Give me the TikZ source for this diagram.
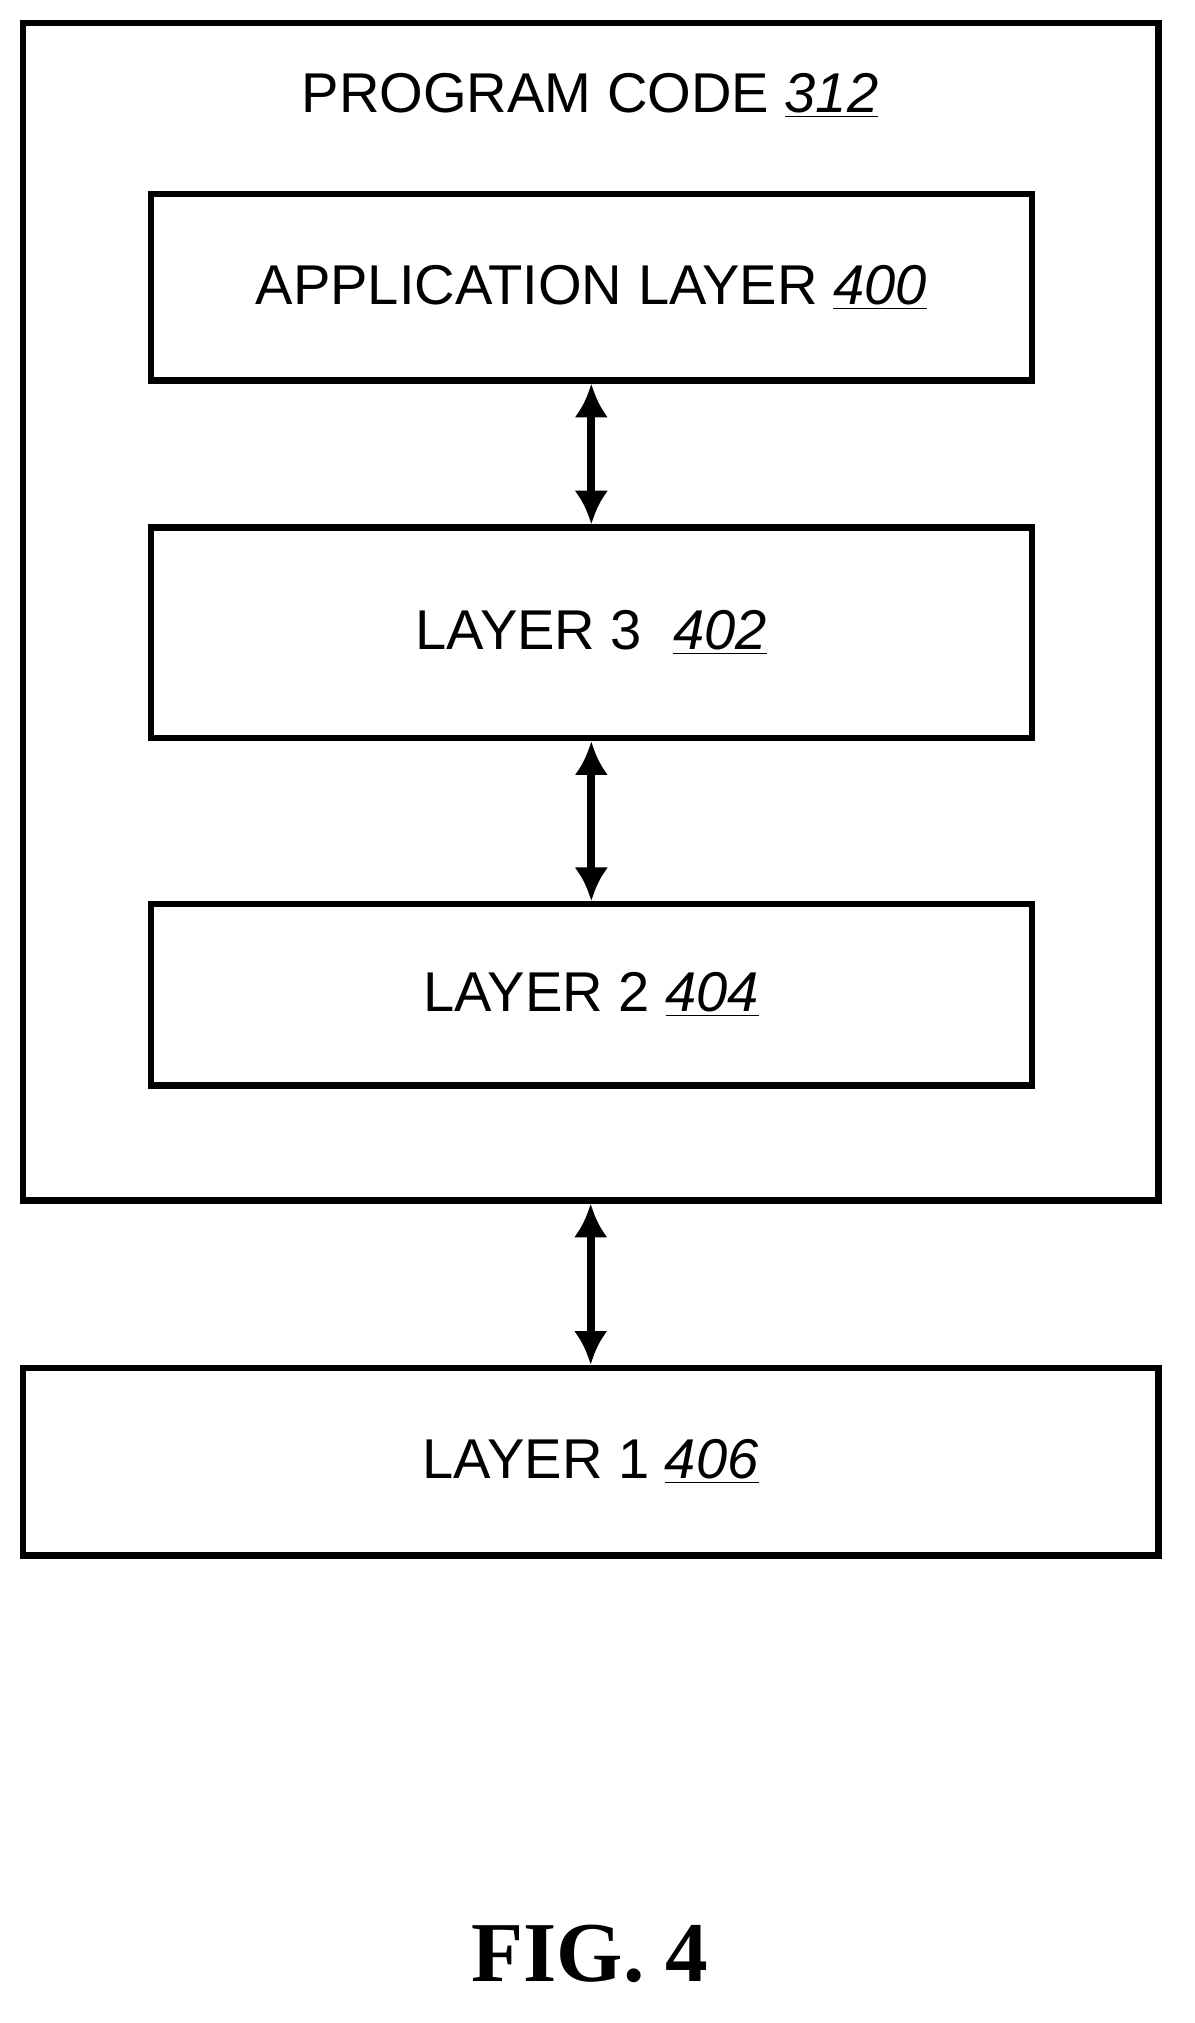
\documentclass[tikz,border=0pt]{standalone}
\usepackage{fontspec}
\setmainfont{Liberation Sans}
\newfontfamily\figfont{Liberation Serif}
\usetikzlibrary{arrows.meta}
\tikzset{
  layerbox/.style={draw, line width=2.8pt, minimum height=#1, inner sep=0pt},
  link/.style={line width=3.6pt, {Latex[length=15pt,width=15pt]}-{Latex[length=15pt,width=15pt]}},
  lbl/.style={font=\fontsize{25}{28}\selectfont}
}
\newcommand{\refnum}[1]{\underline{\itshape #1}}
\begin{document}
\begin{tikzpicture}[x=0.02cm,y=-0.02cm]
    \useasboundingbox (0,0) rectangle (935,1584);
    \node[layerbox=922*0.02cm, minimum width=889*0.02cm] (code) at (462.5,479) {};
    \node[lbl] (codelbl) at (462,75) {PROGRAM CODE \refnum{312}};
    \node[layerbox=146*0.02cm, minimum width=690*0.02cm] (app) at (463,225) {};
    \node[lbl] at (app.center) {APPLICATION LAYER \refnum{400}};
    \node[layerbox=165*0.02cm, minimum width=690*0.02cm] (l3) at (463,495.5) {};
    \node[lbl] at (l3.center) {LAYER 3\ \ \refnum{402}};
    \node[layerbox=142*0.02cm, minimum width=690*0.02cm] (l2) at (463,779) {};
    \node[lbl] at (l2.center) {LAYER 2 \refnum{404}};
    \node[layerbox=147*0.02cm, minimum width=889*0.02cm] (l1) at (462.5,1144.5) {};
    \node[lbl] at (l1.center) {LAYER 1 \refnum{406}};
    \draw[link] (app.south) -- (l3.north);
    \draw[link] (l3.south) -- (l2.north);
    \draw[link] (code.south) -- (l1.north);
    \node[font=\figfont\bfseries\fontsize{38}{42}\selectfont] (fig) at (462,1530) {FIG. 4};
\end{tikzpicture}
\end{document}
